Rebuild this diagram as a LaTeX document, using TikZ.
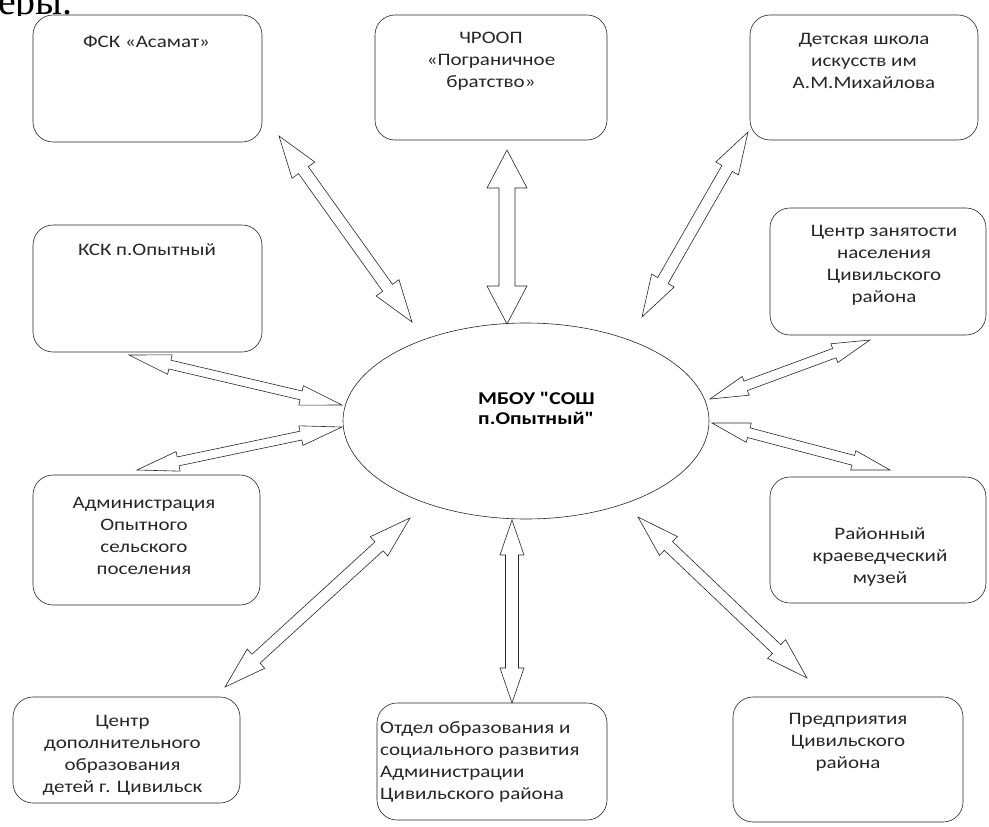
\documentclass[tikz,border=0pt]{standalone}
\usepackage{fontspec}
\setmainfont{Carlito}
\newfontfamily\plaincarlito{Carlito}
\newfontfamily\fragserif{Liberation Serif}
\usetikzlibrary{calc,shapes.geometric}
\tikzset{
  partner/.style={draw=black!85, line width=0.6pt, rounded corners=20pt, fill=white, inner sep=0pt},
  ptext/.style={align=center, font=\fontsize{17.5}{22}\selectfont, text=black!85, inner sep=0pt, xscale=1.2, transform shape},
  hub/.style={draw=black!85, line width=0.6pt, ellipse, inner sep=0pt},
  arrowline/.style={draw=black!85, line width=0.6pt, fill=white, line join=miter},
}
\newcommand\dblarr[5]{%
  \draw[arrowline] (#1)
   -- ($(#1)!#3!(#2)!#4!90:(#2)$)
   -- ($(#1)!#3!(#2)!#5!90:(#2)$)
   -- ($(#2)!#3!(#1)!#5!-90:(#1)$)
   -- ($(#2)!#3!(#1)!#4!-90:(#1)$)
   -- (#2)
   -- ($(#2)!#3!(#1)!#4!90:(#1)$)
   -- ($(#2)!#3!(#1)!#5!90:(#1)$)
   -- ($(#1)!#3!(#2)!#5!-90:(#2)$)
   -- ($(#1)!#3!(#2)!#4!-90:(#2)$)
   -- cycle;}
\begin{document}
\begin{tikzpicture}[x=1pt,y=-1pt]
\useasboundingbox (0,0) rectangle (989,827);
% fragment of page text
\begin{scope}
\clip (0,0) rectangle (90,15);
\node[anchor=base east, inner sep=0pt, font=\fragserif\fontsize{40}{48}\selectfont] (frag) at (73,14) {партнеры.};
\end{scope}
% boxes
\node[partner, minimum width=229pt, minimum height=127pt] (fsk) at (147.5,78.5) {};
\node[partner, minimum width=232pt, minimum height=125pt] (chr) at (491,77.5) {};
\node[partner, minimum width=228pt, minimum height=125pt] (dsh) at (864,77.5) {};
\node[partner, minimum width=229pt, minimum height=127pt] (ksk) at (147.5,288.5) {};
\node[partner, minimum width=216pt, minimum height=127pt] (czn) at (878,271.5) {};
\node[partner, minimum width=216pt, minimum height=126pt] (rkm) at (878,540) {};
\node[partner, minimum width=227pt, minimum height=130pt] (adm) at (146.5,540) {};
\node[partner, minimum width=227pt, minimum height=106pt] (cdo) at (126.5,750) {};
\node[partner, minimum width=230pt, minimum height=117pt] (otd) at (492,761.5) {};
\node[partner, minimum width=230pt, minimum height=125pt] (prd) at (848,759.5) {};
% texts
\node[ptext] (fskT) at (146.5,42) {ФСК «Асамат»};
\node[ptext] (chrT) at (491,61) {ЧРООП\\«Пограничное\\братство»};
\node[ptext] (dshT) at (864,61) {Детская школа\\искусств им\\А.М.Михайлова};
\node[ptext] (kskT) at (147,250) {КСК п.Опытный};
\node[ptext] (cznT) at (884,265) {Центр занятости\\населения\\Цивильского\\района};
\node[ptext] (rkmT) at (880,557) {Районный\\краеведческий\\музей};
\node[ptext] (admT) at (144,536) {Администрация\\Опытного\\сельского\\поселения};
\node[ptext] (cdoT) at (122.5,755) {Центр\\дополнительного\\образования\\детей г. Цивильск};
\node[ptext, align=left, anchor=west] (otdT) at (380,761.5) {Отдел образования и\\социального развития\\Администрации\\Цивильского района};
\node[ptext] (prdT) at (848,742) {Предприятия\\Цивильского\\района};
% hub
\node[hub, minimum width=366pt, minimum height=196pt] (hub) at (526,421) {};
\node[ptext, align=left, anchor=west, font=\plaincarlito\bfseries\fontsize{18}{20}\selectfont, text=black] (hubT) at (478,408) {МБОУ "СОШ\\п.Опытный"};
% arrow end points
\coordinate (fskA) at (279,136);  \coordinate (fskB) at (412,322);
\coordinate (chrA) at (507,150);  \coordinate (chrB) at (507,324);
\coordinate (dshA) at (748,132);  \coordinate (dshB) at (642,317);
\coordinate (kskA) at (129,355);  \coordinate (kskB) at (342,405);
\coordinate (admA) at (137,470);  \coordinate (admB) at (342,427);
\coordinate (cdoA) at (225,687);  \coordinate (cdoB) at (410,518);
\coordinate (otdA) at (512,703);  \coordinate (otdB) at (512,520);
\coordinate (prdA) at (807,678);  \coordinate (prdB) at (638,517);
\coordinate (cznA) at (870,340);  \coordinate (cznB) at (710,399);
\coordinate (rkmA) at (890,470);  \coordinate (rkmB) at (712,423);
% arrows
\dblarr{fskA}{fskB}{42pt}{14pt}{6pt}
\dblarr{chrA}{chrB}{38pt}{20pt}{8pt}
\dblarr{dshA}{dshB}{42pt}{13pt}{6pt}
\dblarr{kskA}{kskB}{42pt}{10pt}{4.5pt}
\dblarr{admA}{admB}{42pt}{10pt}{4.5pt}
\dblarr{cdoA}{cdoB}{42pt}{13pt}{6pt}
\dblarr{otdA}{otdB}{35pt}{12pt}{6.5pt}
\dblarr{prdA}{prdB}{42pt}{13pt}{6pt}
\dblarr{cznA}{cznB}{38pt}{10pt}{5pt}
\dblarr{rkmA}{rkmB}{38pt}{10pt}{5pt}
\end{tikzpicture}
\end{document}
